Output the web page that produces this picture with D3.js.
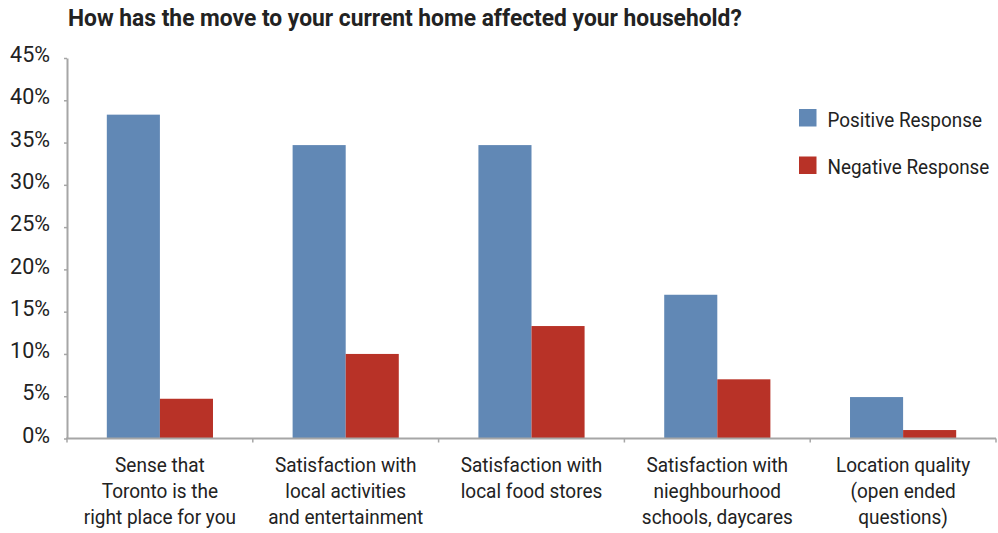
<!DOCTYPE html>
<html>
<head>
<meta charset="utf-8">
<script src="https://cdn.jsdelivr.net/npm/d3@7/dist/d3.min.js"></script>
<style>
  html, body { margin: 0; padding: 0; background: #fff; }
  svg { display: block; }
  text { font-family: "Roboto", "Liberation Sans", sans-serif; fill: #222; }
</style>
</head>
<body>
<svg id="chart" width="998" height="533"></svg>
<script>
// Survey answers, share of households (%)
const categories = [
  ["Sense that", "Toronto is the", "right place for you"],
  ["Satisfaction with", "local activities", "and entertainment"],
  ["Satisfaction with", "local food stores"],
  ["Satisfaction with", "nieghbourhood", "schools, daycares"],
  ["Location quality", "(open ended", "questions)"]
];
const seriesNames = ["Positive Response", "Negative Response"];
const positive = [38.3, 34.7, 34.7, 17.0, 4.9];
const negative = [4.7, 10.0, 13.3, 7.0, 1.0];
const yTicks = [0, 5, 10, 15, 20, 25, 30, 35, 40, 45];
const title = "How has the move to your current home affected your household?";

const colors = ["#6188b5", "#b83227"];
const axisColor = "#a6a6a6";
const svg = d3.select("#chart");

const margin = { left: 67, right: 2, top: 58 };
const width = 998;
const plotBottom = 438.5;

// squeeze a text element horizontally around its anchor x
function condense(sel, s) {
  sel.each(function () {
    const cx = +this.getAttribute("x") || 0;
    d3.select(this).attr("transform", `translate(${cx},0) scale(${s},1) translate(${-cx},0)`);
  });
}

const x = d3.scaleBand()
  .domain(d3.range(categories.length))
  .range([margin.left, width - margin.right])
  .paddingInner(0).paddingOuter(0);

// two bars per group with a 150% gap between groups
const barW = x.bandwidth() / 3.5;
const x1 = d3.scaleBand().domain([0, 1])
  .range([barW * 0.75, barW * 2.75]).padding(0);

const y = d3.scaleLinear().domain([0, 45]).range([plotBottom, margin.top]);

// title
svg.append("text")
  .attr("x", 68).attr("y", 25.7)
  .attr("font-size", 23.5).attr("font-weight", "bold")
  .attr("fill", "#1a1a1a")
  .text(title)
  .call(condense, 0.97);

// bars
const rows = categories.map((c, i) => [positive[i], negative[i]]);
const groups = svg.append("g").selectAll("g").data(rows).join("g")
  .attr("transform", (d, i) => `translate(${x(i)},0)`);
groups.selectAll("rect").data(d => d).join("rect")
  .attr("x", (d, j) => x1(j))
  .attr("width", x1.bandwidth())
  .attr("y", d => y(d))
  .attr("height", d => y(0) - y(d))
  .attr("fill", (d, j) => colors[j]);

// y axis
const yAxis = svg.append("g")
  .attr("transform", `translate(${margin.left},0)`)
  .call(d3.axisLeft(y).tickValues(yTicks).tickFormat(d => d + "%")
    .tickSize(3).tickSizeOuter(0).tickPadding(14));
yAxis.select(".domain").attr("stroke", axisColor).attr("stroke-width", 2);
yAxis.selectAll(".tick line").attr("stroke", axisColor).attr("stroke-width", 1.5);
yAxis.selectAll(".tick text").attr("font-size", 21.5).attr("fill", "#222")
  .attr("dy", "0.17em")
  .attr("font-family", "Roboto, sans-serif");

// x axis: ticks on group boundaries
const xAxisG = svg.append("g").attr("transform", `translate(0,${plotBottom})`);
xAxisG.append("line")
  .attr("x1", margin.left - 1).attr("x2", width - margin.right)
  .attr("stroke", axisColor).attr("stroke-width", 2);
const bounds = d3.range(categories.length + 1).map(i => x.range()[0] + i * x.step());
xAxisG.selectAll("line.tk").data(bounds).join("line")
  .attr("class", "tk")
  .attr("x1", d => d).attr("x2", d => d)
  .attr("y1", 0).attr("y2", 4)
  .attr("stroke", axisColor).attr("stroke-width", 1.5);

// category labels
const labels = svg.append("g").selectAll("text").data(categories).join("text")
  .attr("x", (d, i) => x(i) + x.bandwidth() / 2)
  .attr("y", 472)
  .attr("text-anchor", "middle")
  .attr("font-size", 21);
labels.selectAll("tspan").data(d => d).join("tspan")
  .attr("x", function () { return this.parentNode.getAttribute("x"); })
  .attr("dy", (d, k) => k === 0 ? 0 : 26)
  .text(d => d);
labels.call(condense, 0.905);

// legend
const legend = svg.append("g").selectAll("g").data(seriesNames).join("g")
  .attr("transform", (d, i) => `translate(799,${109 + i * 47.5})`);
legend.append("rect").attr("width", 17.5).attr("height", 17.5)
  .attr("fill", (d, i) => colors[i]);
legend.append("text").attr("x", 28.5).attr("y", 17.6)
  .attr("font-size", 21).text(d => d)
  .call(condense, 0.9);
</script>
</body>
</html>
